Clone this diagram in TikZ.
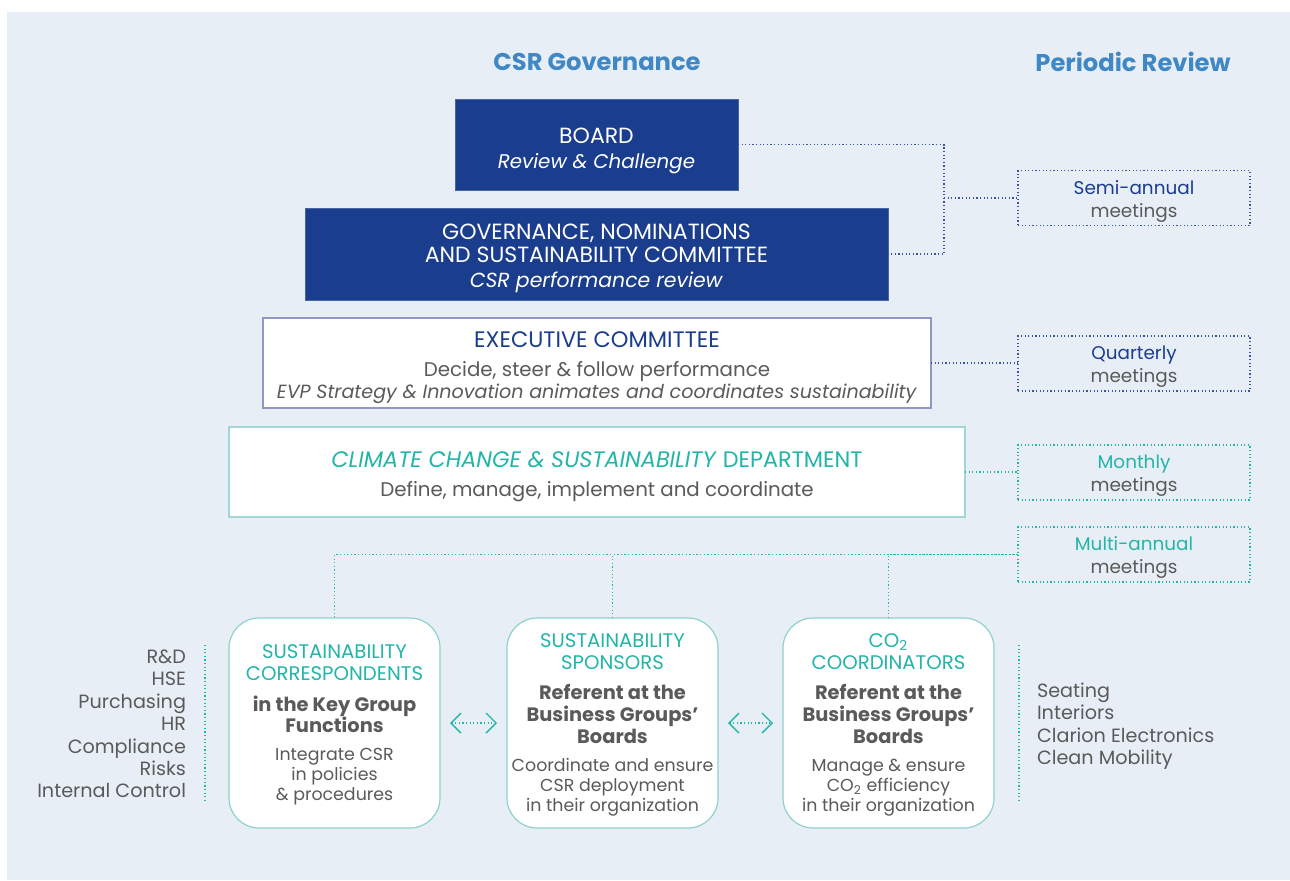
\documentclass[tikz,border=0pt]{standalone}
\usepackage{fontspec}
\setmainfont{Poppins}
\usetikzlibrary{arrows.meta,calc}
\setlength{\lineskiplimit}{-20pt}
\definecolor{bg}{HTML}{E8EEF6}
\definecolor{navy}{HTML}{1A3D8E}
\definecolor{titleblue}{HTML}{3F88C5}
\definecolor{teal}{HTML}{22B5A8}
\definecolor{greytxt}{HTML}{5A5A5A}
\definecolor{execborder}{HTML}{9096C6}
\definecolor{climborder}{HTML}{A5D6D6}
\definecolor{roundborder}{HTML}{8ED2CC}
\definecolor{dotnavy}{HTML}{3A55A0}
\tikzset{
  every node/.style={inner sep=0pt, outer sep=0pt},
  coltitle/.style={font=\fontsize{12.1}{13}\selectfont\bfseries, text=titleblue},
  navybox/.style={fill=navy, draw=navy!80!white},
  navytext/.style={text=white, align=center, font=\fontsize{11}{12.5}\selectfont},
  whitebox/.style={fill=white, line width=0.6pt},
  whitetext/.style={align=center, font=\fontsize{9.9}{11}\selectfont, text=greytxt},
  roundbox/.style={fill=white, draw=roundborder, line width=0.6pt, rounded corners=15pt,
    minimum width=105.5pt, minimum height=105pt},
  roundtext/.style={align=center, font=\fontsize{10}{10}\selectfont, text=greytxt},
  periodbox/.style={minimum width=116pt, minimum height=27.5pt, line width=0.6pt,
    dash pattern=on 0.6pt off 1.2pt},
  periodtext/.style={align=center, font=\fontsize{9.2}{11.5}\selectfont, text=greytxt},
  dotline/.style={line width=0.6pt, dash pattern=on 0.6pt off 1.2pt},
  dotnav/.style={dotline, draw=dotnavy},
  dotteal/.style={dotline, draw=teal},
  listtxt/.style={font=\fontsize{9.6}{11.2}\selectfont, text=greytxt},
  twoway/.style={dotteal, {Straight Barb[length=5pt,width=10pt,line width=0.7pt]}-{Straight Barb[length=5pt,width=10pt,line width=0.7pt]},
    shorten <=5pt, shorten >=5pt},
}
\newcommand{\tealcap}[1]{{\fontsize{9.85}{10}\selectfont\textcolor{teal}{#1}}}
\newcommand{\boldln}[1]{{\bfseries\fontsize{9.7}{10}\selectfont #1}}
\newcommand{\plainln}[1]{{\fontsize{8.7}{10}\selectfont #1}}
\newcommand{\boxhead}[1]{{\fontsize{11.2}{13}\selectfont #1}}
\begin{document}
\begin{tikzpicture}[x=0.5pt,y=-0.5pt]
\useasboundingbox (0,0) rectangle (1290,880);
\fill[bg] (7,12) rectangle (1290,880);

% column titles
\node[coltitle] (t1) at (597,62) {CSR Governance};
\node[coltitle] (t2) at (1133,62) {Periodic Review};

% governance boxes
\node[navybox, minimum width=141.5pt, minimum height=45.5pt] (board) at (596.5,144.5) {};
\node[navytext] (boardtxt) at ([yshift=-3pt]board.center)
  {BOARD\\ \textit{\fontsize{9.9}{12}\selectfont Review \& Challenge}};
\node[navybox, minimum width=291.5pt, minimum height=46pt] (gnsc) at (596.5,254) {};
\node[navytext] (gnsctxt) at ([yshift=-2pt]gnsc.center)
  {GOVERNANCE, NOMINATIONS\\[-1pt] AND SUSTAINABILITY COMMITTEE\\ \textit{\fontsize{10.2}{12}\selectfont CSR performance review}};
\node[whitebox, draw=execborder, minimum width=334pt, minimum height=45pt] (exec) at (597,363) {};
\node[whitetext] (exectxt) at ([yshift=-2.5pt]exec.center)
  {\boxhead{\textcolor{navy}{EXECUTIVE COMMITTEE}}\\[3.5pt] Decide, steer \& follow performance\\ \textit{\fontsize{9.54}{11}\selectfont EVP Strategy \& Innovation animates and coordinates sustainability}};
\node[whitebox, draw=climborder, minimum width=368pt, minimum height=45pt] (clim) at (597,472) {};
\node[whitetext] (climtxt) at ([yshift=-2.25pt]clim.center)
  {\boxhead{\textcolor{teal}{\textit{CLIMATE CHANGE \& SUSTAINABILITY} DEPARTMENT}}\\[3.5pt] Define, manage, implement and coordinate};

% periodic review boxes
\node[periodbox, draw=dotnavy] (semi) at (1134,198) {};
\node[periodtext] (semitxt) at ([yshift=-1.5pt]semi.center) {\textcolor{navy}{Semi-annual}\\ meetings};
\node[periodbox, draw=dotnavy] (quart) at (1134,363.5) {};
\node[periodtext] (quarttxt) at ([yshift=-1.5pt]quart.center) {\textcolor{navy}{Quarterly}\\ meetings};
\node[periodbox, draw=teal] (month) at (1134,472.5) {};
\node[periodtext] (monthtxt) at ([yshift=-1.5pt]month.center) {\textcolor{teal}{Monthly}\\ meetings};
\node[periodbox, draw=teal] (multi) at (1134,554.5) {};
\node[periodtext] (multitxt) at ([yshift=-1.5pt]multi.center) {\textcolor{teal}{Multi-annual}\\ meetings};

% bottom rounded boxes
\node[roundbox] (corr) at (334.5,723) {};
\node[roundtext] (corrtxt) at ([yshift=-1pt]corr.center)
  {\tealcap{SUSTAINABILITY}\\[1pt] \tealcap{CORRESPONDENTS}\\[5.5pt]
   \boldln{in the Key Group}\\[0.75pt] \boldln{Functions}\\[4pt]
   \plainln{Integrate CSR}\\ \plainln{in policies}\\ \plainln{\& procedures}};
\node[roundbox] (spons) at (612.5,723) {};
\node[roundtext] (sponstxt) at ([yshift=-1pt]spons.center)
  {\tealcap{SUSTAINABILITY}\\[1pt] \tealcap{SPONSORS}\\[5pt]
   \boldln{Referent at the}\\[1pt] \boldln{Business Groups'}\\[1pt] \boldln{Boards}\\[4pt]
   \plainln{Coordinate and ensure}\\ \plainln{CSR deployment}\\ \plainln{in their organization}};
\node[roundbox] (coord) at (888.5,723) {};
\node[roundtext] (coordtxt) at ([yshift=-1pt]coord.center)
  {\tealcap{CO\textsubscript{2}}\\[1pt] \tealcap{COORDINATORS}\\[5pt]
   \boldln{Referent at the}\\[1pt] \boldln{Business Groups'}\\[1pt] \boldln{Boards}\\[4pt]
   \plainln{Manage \& ensure}\\ \plainln{CO\textsubscript{2} efficiency}\\ \plainln{in their organization}};

% side lists
\node[listtxt, align=right, anchor=east] (leftlist) at (186,724)
  {R\&D\\ HSE\\ Purchasing\\ HR\\ Compliance\\ Risks\\ Internal Control};
\node[listtxt, align=left, anchor=west] (rightlist) at (1037,726)
  {Seating\\ Interiors\\ Clarion Electronics\\ Clean Mobility};
\coordinate (lt) at (205,645);
\coordinate (lb) at (205,800);
\coordinate (rt) at (1019,645);
\coordinate (rb) at (1019,800);
\draw[dotteal] (lt) -- (lb);
\draw[dotteal] (rt) -- (rb);

% connectors
\coordinate (jx) at (944,198);
\draw[dotnav] (board.east) -| (jx) |- (gnsc.east);
\draw[dotnav] (jx) -- (semi.west);
\draw[dotnav] (exec.east) -- (exec.east -| quart.west);
\draw[dotteal] (clim.east) -- (clim.east -| month.west);
\draw[dotteal] (multi.west) -| (corr.north);
\draw[dotteal] (spons.north) |- (multi.west);
\draw[dotteal] (coord.north) |- (multi.west);

% two-way arrows
\draw[twoway] (corr.east) -- (spons.west);
\draw[twoway] (spons.east) -- (coord.west);
\end{tikzpicture}
\end{document}
